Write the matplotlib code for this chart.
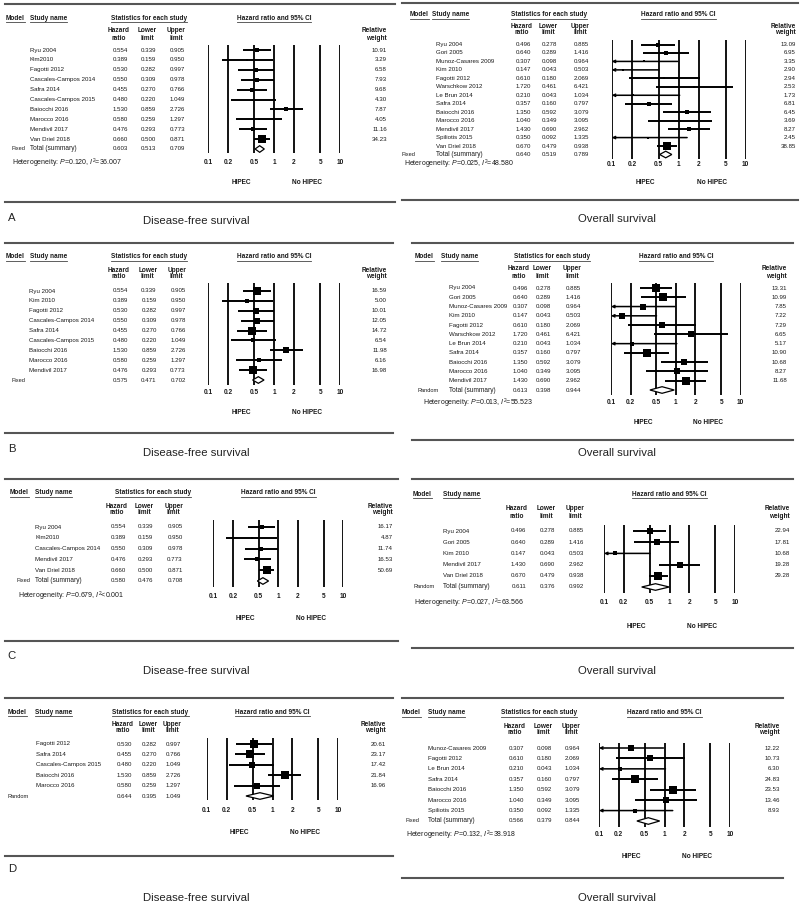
import matplotlib
matplotlib.use("Agg")
import matplotlib.pyplot as plt
from matplotlib.transforms import blended_transform_factory
from matplotlib.lines import Line2D
import numpy as np

plt.rcParams['font.family'] = ['Liberation Sans', 'DejaVu Sans']
plt.rcParams['mathtext.fontset'] = 'custom'
plt.rcParams['mathtext.it'] = 'Liberation Sans:italic'
plt.rcParams['mathtext.rm'] = 'Liberation Sans'

# ---------------- data ----------------
tick_values = [0.1, 0.2, 0.5, 1, 2, 5, 10]
tick_labels = ['0.1', '0.2', '0.5', '1', '2', '5', '10']

# A - Disease-free survival
a_dfs_study = ['Ryu 2004', 'Kim2010', 'Fagotti 2012', 'Cascales-Campos 2014', 'Safra 2014',
               'Cascales-Campos 2015', 'Baiocchi 2016', 'Marocco 2016', 'Mendivil 2017', 'Van Driel 2018']
a_dfs_hr = [0.554, 0.389, 0.530, 0.550, 0.455, 0.480, 1.530, 0.580, 0.476, 0.660]
a_dfs_lo = [0.339, 0.159, 0.282, 0.309, 0.270, 0.220, 0.859, 0.259, 0.293, 0.500]
a_dfs_hi = [0.905, 0.950, 0.997, 0.978, 0.766, 1.049, 2.726, 1.297, 0.773, 0.871]
a_dfs_w = [10.91, 3.29, 6.58, 7.93, 9.68, 4.30, 7.87, 4.05, 11.16, 34.23]
a_dfs_total = [0.603, 0.513, 0.709]
a_dfs_model = ['Fixed', 'Total (summary)']
a_dfs_het = ['0.120', '=36.007']

# A - Overall survival
a_os_study = ['Ryu 2004', 'Gori 2005', 'Munoz-Casares 2009', 'Kim 2010', 'Fagotti 2012', 'Warschkow 2012',
              'Le Brun 2014', 'Safra 2014', 'Baiocchi 2016', 'Marocco 2016', 'Mendivil 2017',
              'Spiliotis 2015', 'Van Driel 2018']
a_os_hr = [0.496, 0.640, 0.307, 0.147, 0.610, 1.720, 0.210, 0.357, 1.350, 1.040, 1.430, 0.350, 0.670]
a_os_lo = [0.278, 0.289, 0.098, 0.043, 0.180, 0.461, 0.043, 0.160, 0.592, 0.349, 0.690, 0.092, 0.479]
a_os_hi = [0.885, 1.416, 0.964, 0.503, 2.069, 6.421, 1.034, 0.797, 3.079, 3.095, 2.962, 1.335, 0.938]
a_os_w = [13.09, 6.95, 3.35, 2.90, 2.94, 2.53, 1.73, 6.81, 6.45, 3.69, 8.27, 2.45, 38.85]
a_os_total = [0.640, 0.519, 0.789]
a_os_model = ['Fixed', 'Total (summary)']
a_os_het = ['0.025', '=48.580']

# B - Disease-free survival
b_dfs_study = ['Ryu 2004', 'Kim 2010', 'Fagotti 2012', 'Cascales-Campos 2014', 'Safra 2014',
               'Cascales-Campos 2015', 'Baiocchi 2016', 'Marocco 2016', 'Mendivil 2017']
b_dfs_hr = [0.554, 0.389, 0.530, 0.550, 0.455, 0.480, 1.530, 0.580, 0.476]
b_dfs_lo = [0.339, 0.159, 0.282, 0.309, 0.270, 0.220, 0.859, 0.259, 0.293]
b_dfs_hi = [0.905, 0.950, 0.997, 0.978, 0.766, 1.049, 2.726, 1.297, 0.773]
b_dfs_w = [16.59, 5.00, 10.01, 12.05, 14.72, 6.54, 11.98, 6.16, 16.98]
b_dfs_total = [0.575, 0.471, 0.702]
b_dfs_model = ['Fixed', '']
b_dfs_het = None

# B - Overall survival
b_os_study = ['Ryu 2004', 'Gori 2005', 'Munoz-Casares 2009', 'Kim 2010', 'Fagotti 2012', 'Warschkow 2012',
              'Le Brun 2014', 'Safra 2014', 'Baiocchi 2016', 'Marocco 2016', 'Mendivil 2017']
b_os_hr = [0.496, 0.640, 0.307, 0.147, 0.610, 1.720, 0.210, 0.357, 1.350, 1.040, 1.430]
b_os_lo = [0.278, 0.289, 0.098, 0.043, 0.180, 0.461, 0.043, 0.160, 0.592, 0.349, 0.690]
b_os_hi = [0.885, 1.416, 0.964, 0.503, 2.069, 6.421, 1.034, 0.797, 3.079, 3.095, 2.962]
b_os_w = [13.31, 10.99, 7.85, 7.22, 7.29, 6.65, 5.17, 10.90, 10.68, 8.27, 11.68]
b_os_total = [0.613, 0.398, 0.944]
b_os_model = ['Random', 'Total (summary)']
b_os_het = ['0.013', '=55.523']

# C - Disease-free survival
c_dfs_study = ['Ryu 2004', 'Kim2010', 'Cascales-Campos 2014', 'Mendivil 2017', 'Van Driel 2018']
c_dfs_hr = [0.554, 0.389, 0.550, 0.476, 0.660]
c_dfs_lo = [0.339, 0.159, 0.309, 0.293, 0.500]
c_dfs_hi = [0.905, 0.950, 0.978, 0.773, 0.871]
c_dfs_w = [16.17, 4.87, 11.74, 16.53, 50.69]
c_dfs_total = [0.580, 0.476, 0.708]
c_dfs_model = ['Fixed', 'Total (summary)']
c_dfs_het = ['0.679', '<0.001']

# C - Overall survival
c_os_study = ['Ryu 2004', 'Gori 2005', 'Kim 2010', 'Mendivil 2017', 'Van Driel 2018']
c_os_hr = [0.496, 0.640, 0.147, 1.430, 0.670]
c_os_lo = [0.278, 0.289, 0.043, 0.690, 0.479]
c_os_hi = [0.885, 1.416, 0.503, 2.962, 0.938]
c_os_w = [22.94, 17.81, 10.68, 19.28, 29.28]
c_os_total = [0.611, 0.376, 0.992]
c_os_model = ['Random', 'Total (summary)']
c_os_het = ['0.027', '=63.566']

# D - Disease-free survival
d_dfs_study = ['Fagotti 2012', 'Safra 2014', 'Cascales-Campos 2015', 'Baiocchi 2016', 'Marocco 2016']
d_dfs_hr = [0.530, 0.455, 0.480, 1.530, 0.580]
d_dfs_lo = [0.282, 0.270, 0.220, 0.859, 0.259]
d_dfs_hi = [0.997, 0.766, 1.049, 2.726, 1.297]
d_dfs_w = [20.61, 23.17, 17.42, 21.84, 16.96]
d_dfs_total = [0.644, 0.395, 1.049]
d_dfs_model = ['Random', '']
d_dfs_het = None

# D - Overall survival
d_os_study = ['Munoz-Casares 2009', 'Fagotti 2012', 'Le Brun 2014', 'Safra 2014', 'Baiocchi 2016',
              'Marocco 2016', 'Spiliotis 2015']
d_os_hr = [0.307, 0.610, 0.210, 0.357, 1.350, 1.040, 0.350]
d_os_lo = [0.098, 0.180, 0.043, 0.160, 0.592, 0.349, 0.092]
d_os_hi = [0.964, 2.069, 1.034, 0.797, 3.079, 3.095, 1.335]
d_os_w = [12.22, 10.73, 6.30, 24.83, 23.53, 13.46, 8.93]
d_os_total = [0.566, 0.379, 0.844]
d_os_model = ['Fixed', 'Total (summary)']
d_os_het = ['0.132', '=38.918']

datasets = [
    (a_dfs_study, a_dfs_hr, a_dfs_lo, a_dfs_hi, a_dfs_w, a_dfs_total, a_dfs_model, a_dfs_het),
    (a_os_study, a_os_hr, a_os_lo, a_os_hi, a_os_w, a_os_total, a_os_model, a_os_het),
    (b_dfs_study, b_dfs_hr, b_dfs_lo, b_dfs_hi, b_dfs_w, b_dfs_total, b_dfs_model, b_dfs_het),
    (b_os_study, b_os_hr, b_os_lo, b_os_hi, b_os_w, b_os_total, b_os_model, b_os_het),
    (c_dfs_study, c_dfs_hr, c_dfs_lo, c_dfs_hi, c_dfs_w, c_dfs_total, c_dfs_model, c_dfs_het),
    (c_os_study, c_os_hr, c_os_lo, c_os_hi, c_os_w, c_os_total, c_os_model, c_os_het),
    (d_dfs_study, d_dfs_hr, d_dfs_lo, d_dfs_hi, d_dfs_w, d_dfs_total, d_dfs_model, d_dfs_het),
    (d_os_study, d_os_hr, d_os_lo, d_os_hi, d_os_w, d_os_total, d_os_model, d_os_het),
]

# ---------------- layout (pixels) ----------------
L = dict(x0=5, x1=395, title_x=196, title='Disease-free survival')
R = dict(x0=402, x1=798, title_x=617, title='Overall survival')
layout = [
    dict(L, top=4, bot=202, head=18, sub=(31, 38), row0=50, summ=149, vt=45, vb=153, tick=163, hipec=182,
         model_x=6, study_x=30, row_x=30, label_x=11, hr_r=128, lo_r=156, hi_r=185, stats_c=149,
         p01=208.3, p10=340, w_r=387, het_x=12, letter='A', letter_y=218, title_y=221, stats=True),
    dict(R, top=3, bot=200, head=15, sub=(26, 33), row0=44.5, summ=154.5, vt=40, vb=158.5, tick=164, hipec=182,
         model_x=410, study_x=432, row_x=436, label_x=402, hr_r=531, lo_r=557, hi_r=589, stats_c=549,
         p01=611.7, p10=745.7, w_r=796, het_x=404, letter=None, title_y=219, stats=True),
    dict(L, x1=393, top=243, bot=433, head=257, sub=(270, 277), row0=291, summ=380, vt=283, vb=385, tick=393,
         hipec=412, model_x=6, study_x=30, row_x=29, label_x=11, hr_r=128, lo_r=156.7, hi_r=185.7, stats_c=149,
         p01=208.3, p10=340, w_r=387, het_x=12, letter='B', letter_y=449, title_y=453, stats=True),
    dict(R, x0=411.7, x1=792.7, top=243, bot=440, head=257, sub=(269, 276), row0=288, summ=390, vt=283, vb=395,
         tick=403, hipec=422, model_x=415, study_x=441, row_x=449, label_x=417, hr_r=528, lo_r=551, hi_r=581,
         stats_c=552, p01=611, p10=740.7, w_r=787, het_x=423, letter=None, title_y=453, stats=True),
    dict(L, x1=398, top=479, bot=641, head=493, sub=(507, 513), row0=527, summ=581, vt=520, vb=587, tick=596,
         hipec=618, model_x=10, study_x=35, row_x=35, label_x=16.7, hr_r=126, lo_r=153.3, hi_r=182.7, stats_c=153,
         p01=213.3, p10=343.3, w_r=393, het_x=18, letter='C', letter_y=656, title_y=671, stats=True),
    dict(R, x0=411.7, x1=792.7, top=479, bot=648, head=494, sub=(509, 517), row0=531, summ=587, vt=525, vb=593,
         tick=603, hipec=626, model_x=413, study_x=443, row_x=443, label_x=414, hr_r=526, lo_r=555, hi_r=584,
         stats_c=None, p01=604, p10=735, w_r=790, het_x=414, letter=None, title_y=671, stats=False),
    dict(L, x1=392.7, top=698, bot=856, head=712, sub=(724, 731), row0=744, summ=796, vt=738, vb=800, tick=810,
         hipec=833, model_x=8, study_x=35, row_x=36, label_x=8, hr_r=132, lo_r=157, hi_r=181, stats_c=150.5,
         p01=206.7, p10=338.3, w_r=386, het_x=8, letter='D', letter_y=869, title_y=898, stats=True),
    dict(R, x0=401.7, x1=782.7, top=698, bot=878, head=713, sub=(726, 733), row0=748, summ=821, vt=743, vb=827,
         tick=835, hipec=857, model_x=402, study_x=428, row_x=428, label_x=406, hr_r=524, lo_r=552, hi_r=580,
         stats_c=539, p01=599, p10=730, w_r=780, het_x=406, letter=None, title_y=898, stats=True),
]

W, H = 800, 907
fig = plt.figure(figsize=(W / 100, H / 100), dpi=100)
fig.patch.set_facecolor('white')


def fx(x):
    return x / W


def fy(y):
    return 1 - y / H


TXT = '#1a1a1a'
FS_ROW = 4.4
FS_HEAD = 4.7
FS_HET = 5.0
FS_TITLE = 8.2
SEP_COLOR = '#555555'
LW_CI = 1.4
LW_V = 1.3
underline_texts = []

for p, d in zip(layout, datasets):
    study, hr, lo, hi, w, total, model, het = d
    n = len(study)
    step = (p['summ'] - p['row0']) / n
    ax = fig.add_axes([fx(p['p01']), fy(p['vb']), (p['p10'] - p['p01']) / W, (p['vb'] - p['vt']) / H])
    ax.set_xscale('log')
    ax.set_xlim(0.1, 10)
    ax.set_ylim((p['vb'] - p['row0']) / step, (p['vt'] - p['row0']) / step)
    ax.set_autoscale_on(False)
    ax.axis('off')
    for t in tick_values:
        ax.axvline(t, color='black', lw=LW_V, zorder=1)

    # separators, title, letter
    for yy in (p['top'], p['bot']):
        fig.add_artist(Line2D([fx(p['x0']), fx(p['x1'])], [fy(yy), fy(yy)], transform=fig.transFigure,
                              color=SEP_COLOR, lw=1.5))
    fig.text(fx(p['title_x']), fy(p['title_y']), p['title'], ha='center', va='center',
             fontsize=FS_TITLE, color='#222222')
    if p['letter']:
        fig.text(fx(12), fy(p['letter_y']), p['letter'], ha='center', va='center',
                 fontsize=FS_TITLE, color='#222222')

    # headers
    hy = fy(p['head'])
    underline_texts.append(fig.text(fx(p['model_x']), hy, 'Model', ha='left', va='center',
                                    fontsize=FS_HEAD, fontweight='bold', color=TXT))
    underline_texts.append(fig.text(fx(p['study_x']), hy, 'Study name', ha='left', va='center',
                                    fontsize=FS_HEAD, fontweight='bold', color=TXT))
    if p['stats']:
        underline_texts.append(fig.text(fx(p['stats_c']), hy, 'Statistics for each study', ha='center',
                                        va='center', fontsize=FS_HEAD, fontweight='bold', color=TXT))
    hxc = (p['p01'] + p['p10']) / 2
    underline_texts.append(fig.text(fx(hxc), hy, 'Hazard ratio and 95% CI', ha='center', va='center',
                                    fontsize=FS_HEAD, fontweight='bold', color=TXT))
    for (r, l1, l2) in [(p['hr_r'], 'Hazard', 'ratio'), (p['lo_r'], 'Lower', 'limit'),
                        (p['hi_r'], 'Upper', 'limit')]:
        fig.text(fx(r - 9), fy(p['sub'][0]), l1, ha='center', va='center', fontsize=FS_HEAD,
                 fontweight='bold', color=TXT)
        fig.text(fx(r - 9), fy(p['sub'][1]), l2, ha='center', va='center', fontsize=FS_HEAD,
                 fontweight='bold', color=TXT)
    fig.text(fx(p['w_r']), fy(p['sub'][0]), 'Relative', ha='right', va='center', fontsize=FS_HEAD,
             fontweight='bold', color=TXT)
    fig.text(fx(p['w_r']), fy(p['sub'][1]), 'weight', ha='right', va='center', fontsize=FS_HEAD,
             fontweight='bold', color=TXT)

    trow = blended_transform_factory(fig.transFigure, ax.transData)
    tx = blended_transform_factory(ax.transData, fig.transFigure)

    wmax = max(w)
    for i in range(n):
        ax.text(fx(p['row_x']), i, study[i], transform=trow, ha='left', va='center', fontsize=FS_ROW, color=TXT)
        ax.text(fx(p['hr_r']), i, '%.3f' % hr[i], transform=trow, ha='right', va='center', fontsize=FS_ROW, color=TXT)
        ax.text(fx(p['lo_r']), i, '%.3f' % lo[i], transform=trow, ha='right', va='center', fontsize=FS_ROW, color=TXT)
        ax.text(fx(p['hi_r']), i, '%.3f' % hi[i], transform=trow, ha='right', va='center', fontsize=FS_ROW, color=TXT)
        ax.text(fx(p['w_r']), i, '%.2f' % w[i], transform=trow, ha='right', va='center', fontsize=FS_ROW, color=TXT)
        if lo[i] < 0.1:
            ax.annotate('', xy=(0.1, i), xytext=(hi[i], i),
                        arrowprops=dict(arrowstyle='->', lw=LW_CI * 0.8, color='black', shrinkA=0, shrinkB=0,
                                        mutation_scale=4), annotation_clip=False)
        else:
            ax.hlines(i, lo[i], hi[i], colors='black', lw=LW_CI, zorder=2)
        side_px = max(2.6, 7.8 * np.sqrt(w[i] / wmax))
        ax.scatter([hr[i]], [i], marker='s', s=(side_px * 0.72) ** 2, color='black', zorder=3,
                   linewidths=0, clip_on=False)

    # summary
    ns = n
    half = 3.3 / step
    ax.fill([total[1], total[0], total[2], total[0]], [ns, ns - half, ns, ns + half],
            facecolor='white', edgecolor='black', lw=0.9, zorder=3)
    ax.text(fx(p['label_x']), ns, model[0], transform=trow, ha='left', va='center', fontsize=FS_ROW - 0.3,
            color=TXT)
    if model[1]:
        ax.text(fx(p['row_x']), ns, model[1], transform=trow, ha='left', va='center', fontsize=FS_ROW + 0.3,
                color=TXT)
    ax.text(fx(p['hr_r']), ns, '%.3f' % total[0], transform=trow, ha='right', va='center', fontsize=FS_ROW, color=TXT)
    ax.text(fx(p['lo_r']), ns, '%.3f' % total[1], transform=trow, ha='right', va='center', fontsize=FS_ROW, color=TXT)
    ax.text(fx(p['hi_r']), ns, '%.3f' % total[2], transform=trow, ha='right', va='center', fontsize=FS_ROW, color=TXT)

    if het:
        fig.text(fx(p['het_x']), fy(p['tick']), 'Heterogeneity: $P$=%s, $I^2$%s' % (het[0], het[1]),
                 ha='left', va='center', fontsize=FS_HET, color=TXT)

    # tick labels & direction labels
    for t, lab in zip(tick_values, tick_labels):
        ax.text(t, fy(p['tick']), lab, transform=tx, ha='center', va='center', fontsize=FS_HEAD,
                fontweight='bold', color=TXT)
    ax.text(10 ** -0.5, fy(p['hipec']), 'HIPEC', transform=tx, ha='center', va='center', fontsize=FS_HEAD,
            fontweight='bold', color=TXT)
    ax.text(10 ** 0.5, fy(p['hipec']), 'No HIPEC', transform=tx, ha='center', va='center', fontsize=FS_HEAD,
            fontweight='bold', color=TXT)

# underlines of header labels
fig.canvas.draw()
renderer = fig.canvas.get_renderer()
for t in underline_texts:
    bb = t.get_window_extent(renderer)
    yl = bb.y0 - 0.3
    fig.add_artist(Line2D([bb.x0 / W, bb.x1 / W], [yl / H, yl / H], transform=fig.transFigure,
                          color='#444444', lw=0.6))

fig.savefig('out.png', dpi=100, facecolor='white')
